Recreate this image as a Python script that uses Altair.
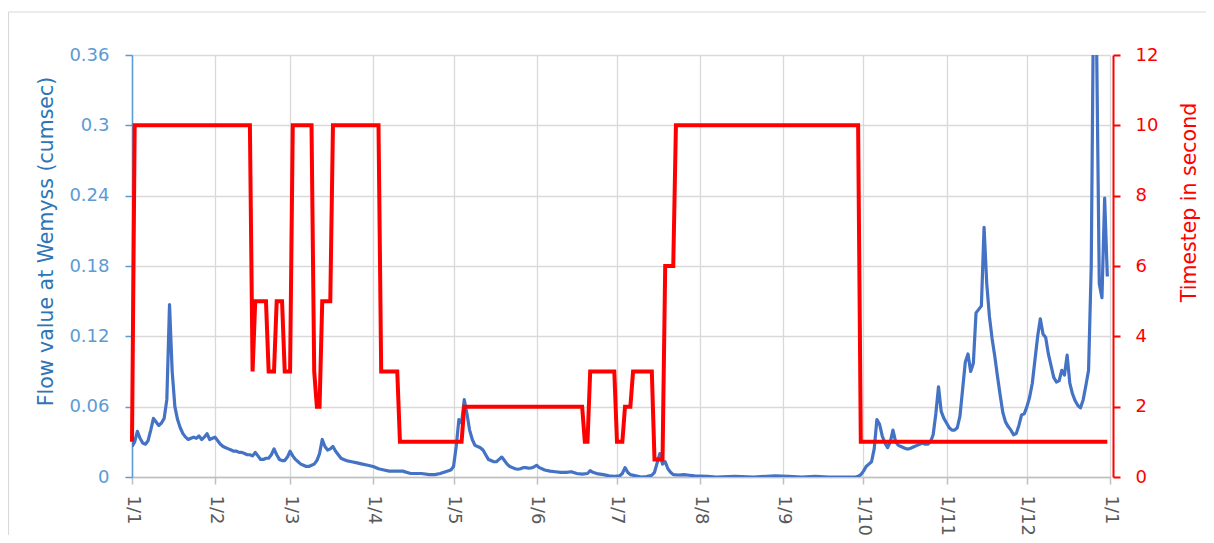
import altair as alt
import pandas as pd

# ---- data ----
month_days = [0, 31, 59, 90, 120, 151, 181, 212, 243, 273, 304, 334, 365]
month_labels = ["1/1", "1/2", "1/3", "1/4", "1/5", "1/6", "1/7", "1/8", "1/9",
                "1/10", "1/11", "1/12", "1/1"]
flow_ticks = [0, 0.06, 0.12, 0.18, 0.24, 0.3, 0.36]
step_ticks = [0, 2, 4, 6, 8, 10, 12]

flow_days = [
    0, 1, 2, 3, 4, 5, 6, 7, 8, 9, 10, 11, 12, 13, 14, 15, 16, 17, 18, 19,
    20, 21, 22, 23, 24, 25, 26, 27, 28, 29, 30, 31, 32, 33, 34, 35, 36, 37, 38, 39,
    40, 41, 42, 43, 44, 45, 46, 47, 48, 49, 50, 51, 52, 53, 54, 55, 56, 57, 58, 59,
    60, 61, 62, 63, 64, 65, 66, 67, 68, 69, 70, 71, 72, 73, 74, 75, 76, 77, 78, 79,
    80, 82, 84, 86, 88, 90, 92, 94, 96, 98, 101, 104, 106, 108, 111, 113, 115, 117, 119,
    120, 121, 122, 123, 124, 125, 126, 127, 128, 129, 130, 131, 132, 133, 134, 135,
    136, 137, 138, 139, 140, 141, 142, 143, 144, 145, 146, 147, 148, 149, 150, 151,
    152, 153, 154, 156, 158, 160, 162, 164, 166, 168, 170, 171, 172, 174, 176, 178,
    180, 182, 183, 184, 185, 186, 188, 190, 192, 194, 195, 196, 197, 198, 199, 200,
    201, 202, 204, 206, 208, 210, 212, 215, 218, 225, 232, 240, 245, 250, 255, 260,
    265, 270,
    271, 272, 273, 274, 275, 276, 277, 278, 279, 280, 281, 282, 283, 284, 285, 286,
    287, 288, 289, 290, 291, 292, 293, 294, 295, 296, 297, 298, 299, 300, 301, 302,
    303, 304, 305, 306, 307, 308, 309, 310, 311, 312, 313, 314, 315, 316, 317, 318,
    319, 320, 321, 322, 323, 324, 325, 326, 327, 328, 329, 330, 331, 332, 333, 334,
    335, 336, 337, 338, 339, 340, 341, 342, 343, 344, 345, 346, 347, 348, 349, 350,
    351, 352, 353, 354, 355, 356, 357, 358, 359, 360, 361, 362, 363, 364,
]
flow_values = [
    0.026, 0.030, 0.039, 0.033, 0.029, 0.028, 0.031, 0.040, 0.050, 0.047,
    0.044, 0.046, 0.050, 0.066, 0.147, 0.090, 0.060, 0.049, 0.042, 0.037,
    0.034, 0.032, 0.033, 0.034, 0.033, 0.035, 0.032, 0.034, 0.037, 0.032,
    0.033, 0.034, 0.031, 0.028, 0.026, 0.025, 0.024, 0.023, 0.022, 0.022,
    0.021, 0.021, 0.020, 0.019, 0.019, 0.018, 0.021, 0.018, 0.015, 0.015,
    0.016, 0.016, 0.019, 0.024, 0.019, 0.015, 0.014, 0.014, 0.017, 0.022,
    0.018, 0.015, 0.013, 0.011, 0.010, 0.009, 0.009, 0.010, 0.011, 0.014,
    0.020, 0.032, 0.026, 0.023, 0.024, 0.026, 0.022, 0.019, 0.016, 0.015,
    0.014, 0.013, 0.012, 0.011, 0.010, 0.009, 0.007, 0.006, 0.005, 0.005,
    0.005, 0.003, 0.003, 0.003, 0.002, 0.002, 0.003, 0.0045, 0.006,
    0.009, 0.026, 0.049, 0.046, 0.066, 0.054, 0.040, 0.032, 0.027, 0.026,
    0.025, 0.023, 0.019, 0.015, 0.014, 0.013, 0.013, 0.015, 0.017, 0.014,
    0.011, 0.009, 0.008, 0.007, 0.0066, 0.007, 0.008, 0.008, 0.0075, 0.0077,
    0.0085, 0.010, 0.008, 0.007, 0.006, 0.005, 0.0045, 0.004, 0.004, 0.0045,
    0.003, 0.0025, 0.003, 0.0054, 0.004, 0.0026, 0.002, 0.001, 0.0005, 0.001,
    0.003, 0.008, 0.004, 0.002, 0.001, 0.0, 0.0003, 0.0015, 0.004, 0.012,
    0.020, 0.011, 0.013, 0.007, 0.004, 0.002, 0.0017, 0.002, 0.0015, 0.001,
    0.0008, 0.0005, 0.0, 0.0005, 0.0, 0.001, 0.0005, 0.0, 0.0005, 0.0,
    0.0, 0.0,
    0.0005, 0.002, 0.005, 0.009, 0.011, 0.013, 0.024, 0.049, 0.045, 0.035,
    0.029, 0.025, 0.030, 0.040, 0.030, 0.027, 0.026, 0.025, 0.024, 0.024,
    0.025, 0.026, 0.027, 0.028, 0.029, 0.028, 0.028, 0.030, 0.036, 0.054,
    0.077, 0.056, 0.050, 0.046, 0.042, 0.040, 0.040, 0.042, 0.052, 0.075,
    0.098, 0.105, 0.090, 0.097, 0.140, 0.143, 0.146, 0.213, 0.165, 0.137,
    0.118, 0.103, 0.086, 0.070, 0.055, 0.047, 0.043, 0.040, 0.036, 0.037,
    0.044, 0.053, 0.054, 0.060, 0.068, 0.080, 0.100, 0.120, 0.135, 0.122,
    0.119, 0.105, 0.095, 0.085, 0.081, 0.082, 0.091, 0.087, 0.104, 0.080,
    0.071, 0.065, 0.061, 0.059, 0.066, 0.078, 0.091, 0.180, 0.450, 0.370,
    0.165, 0.153, 0.238, 0.171,
]

step_days = [0, 1, 44, 45, 46, 50, 51, 53, 54, 56, 57, 59, 60, 67, 68, 69, 70, 71,
             74, 75, 92, 93, 99, 100, 123, 124, 168, 169, 170, 171, 180, 181, 183,
             184, 186, 187, 194, 195, 198, 199, 202, 203, 271, 272, 364]
step_values = [1, 10, 10, 3, 5, 5, 3, 3, 5, 5, 3, 3, 10, 10, 3, 2, 2, 5,
               5, 10, 10, 3, 3, 1, 1, 2, 2, 1, 1, 3, 3, 1, 1,
               2, 2, 3, 3, 0.5, 0.5, 6, 6, 10, 10, 1, 1]

assert len(flow_days) == len(flow_values)
assert len(step_days) == len(step_values)

flow_df = pd.DataFrame({"day": flow_days, "flow": flow_values})
step_df = pd.DataFrame({"day": step_days, "step": step_values})

FONT = "DejaVu Sans"
GRID = "#d9d9d9"
BLUE_LABEL = "#5B9BD5"
BLUE_TITLE = "#2E75B6"
RED = "#FF0000"

label_expr = ("[" + ",".join("'" + s + "'" for s in month_labels) + "][indexof(["
              + ",".join(str(d) for d in month_days) + "], datum.value)]")

x_enc = alt.X(
    "day:Q",
    scale=alt.Scale(domain=[0, 365], nice=False, zero=False),
    axis=alt.Axis(
        values=month_days, labelExpr=label_expr, labelAngle=90,
        labelFont=FONT, labelFontSize=18, labelColor="#595959", labelPadding=11,
        labelOverlap=False, labelBound=False, labelFlush=False,
        tickSize=7, tickColor="#bfbfbf", tickWidth=1.5,
        domainColor="#bfbfbf", domainWidth=1.5,
        grid=True, gridColor=GRID, gridWidth=1.3, title=None,
    ),
)

blue = alt.Chart(flow_df).mark_line(color="#4472C4", strokeWidth=3.2, clip=True,
                                    strokeJoin="round").encode(
    x=x_enc,
    y=alt.Y(
        "flow:Q",
        scale=alt.Scale(domain=[0, 0.36], nice=False),
        axis=alt.Axis(
            orient="left", values=flow_ticks, format="~g",
            labelFont=FONT, labelFontSize=18, labelColor=BLUE_LABEL, labelPadding=16,
            tickSize=7, tickColor=BLUE_LABEL, tickWidth=1.5,
            domainColor=BLUE_LABEL, domainWidth=1.5,
            grid=True, gridColor=GRID, gridWidth=1.3,
            title="Flow value at Wemyss (cumsec)", titleFont=FONT, titleFontSize=20.5,
            titleFontWeight="normal", titleColor=BLUE_TITLE, titleAngle=270,
            titleAlign="center", titleBaseline="middle", titleX=-86, titleY=186,
        ),
    ),
)

red = alt.Chart(step_df).mark_line(color=RED, strokeWidth=4, strokeJoin="miter").encode(
    x=x_enc,
    y=alt.Y(
        "step:Q",
        scale=alt.Scale(domain=[0, 12], nice=False),
        axis=alt.Axis(
            orient="right", values=step_ticks, offset=3,
            labelFont=FONT, labelFontSize=18, labelColor=RED, labelPadding=15,
            tickSize=7, tickColor=RED, tickWidth=2,
            domainColor=RED, domainWidth=2, grid=False,
            title="Timestep in second", titleFont=FONT, titleFontSize=20.5,
            titleFontWeight="normal", titleColor=RED, titleAngle=270,
            titleAlign="center", titleBaseline="middle", titleX=76, titleY=147,
        ),
    ),
)

frame_src = alt.Data(values=[{"k": 1}])
frame_top = alt.Chart(frame_src).mark_rule(color=GRID, strokeWidth=1.2).encode(
    x=alt.value(-123.5), x2=alt.value(1080), y=alt.value(-43)
)
frame_left = alt.Chart(frame_src).mark_rule(color=GRID, strokeWidth=1.2).encode(
    x=alt.value(-123.5), y=alt.value(-43), y2=alt.value(480)
)

chart = (
    alt.layer(frame_top, frame_left, blue, red)
    .resolve_scale(y="independent")
    .properties(
        width=978, height=422,
        autosize=alt.AutoSizeParams(type="none"),
        padding={"left": 124, "top": 47, "right": 96, "bottom": 58},
        background="white",
    )
    .configure_view(stroke=None)
)

chart.save("out.html", embed_options={"renderer": "svg", "actions": False})
